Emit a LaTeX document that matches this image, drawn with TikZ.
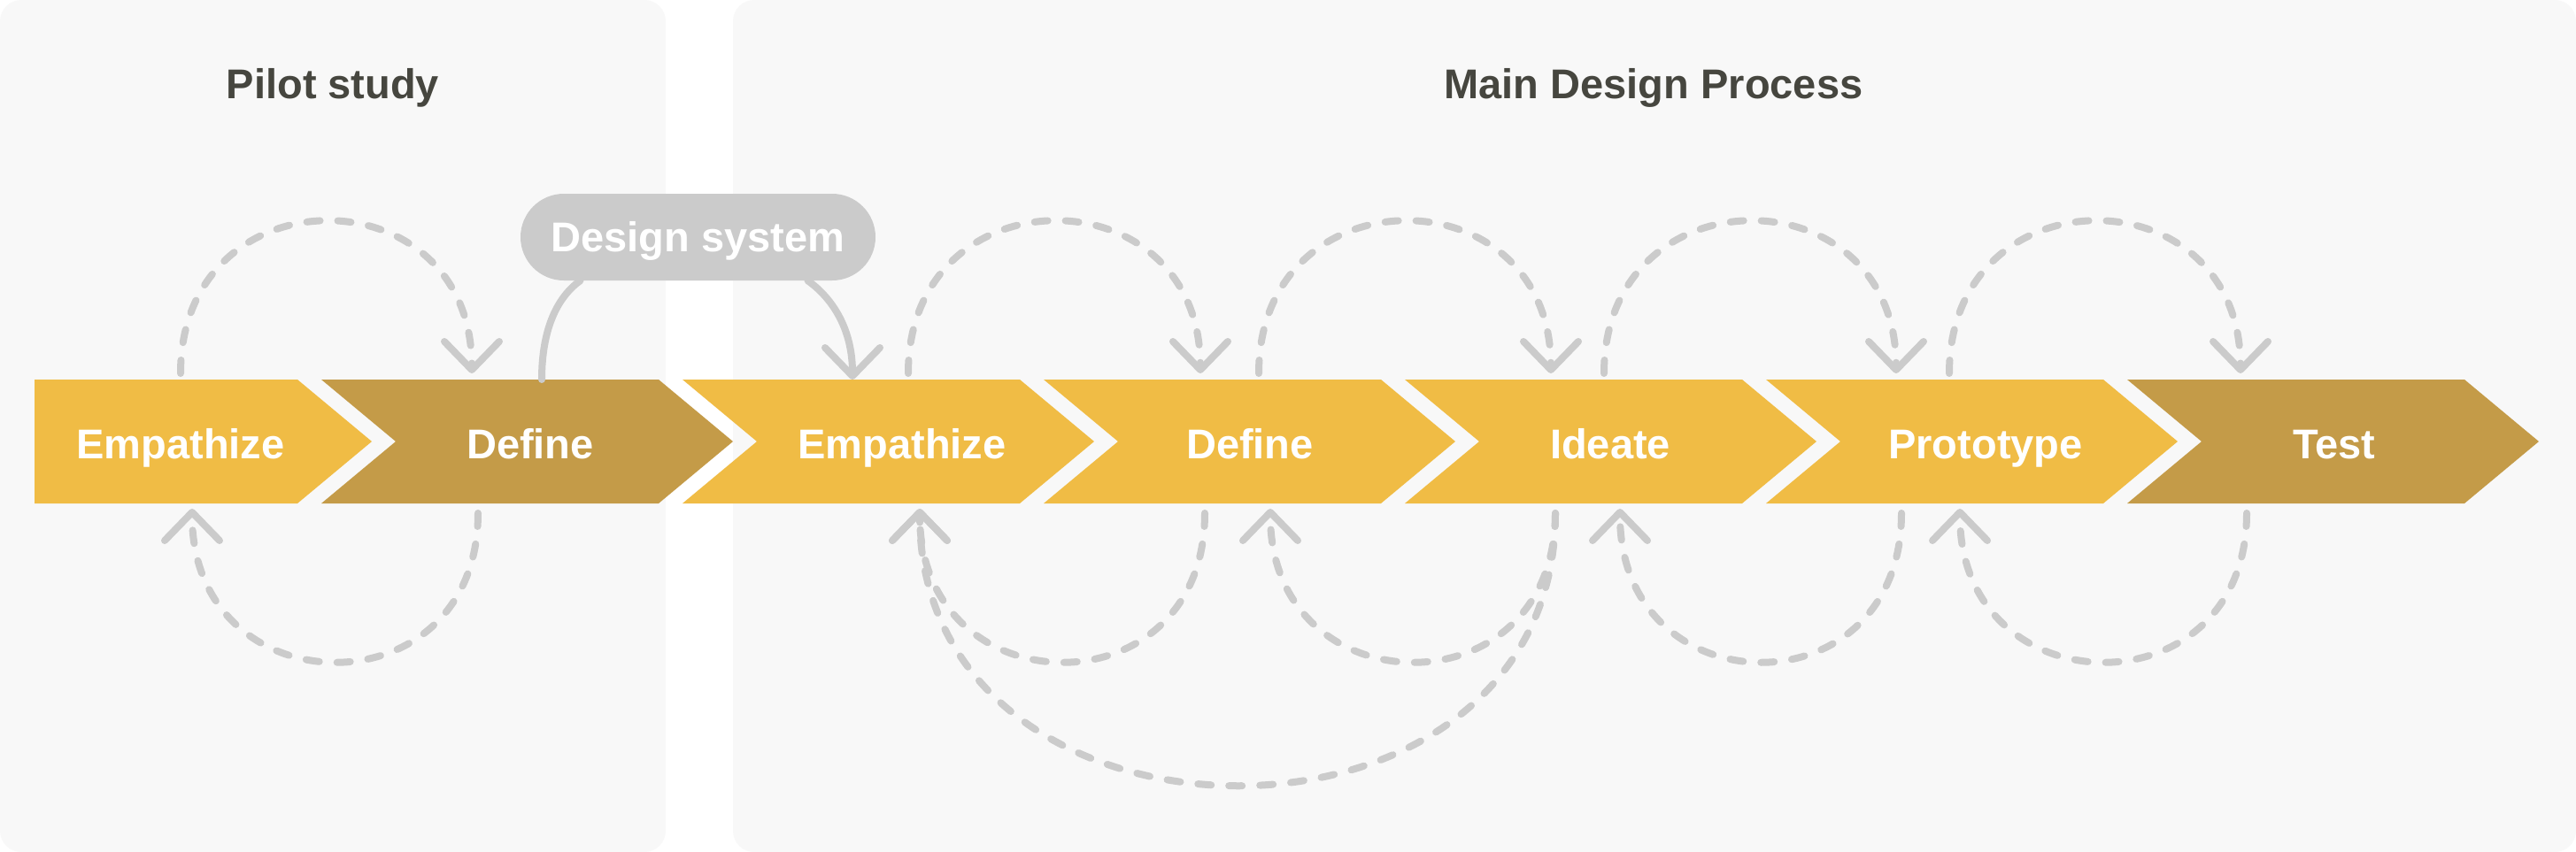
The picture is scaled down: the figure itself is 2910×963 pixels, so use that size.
\documentclass[tikz,border=0pt]{standalone}
\usepackage{fontspec}
\setmainfont{Liberation Sans}
\usetikzlibrary{arrows.meta}
\definecolor{panelgray}{HTML}{F8F8F8}
\definecolor{stepyellow}{HTML}{F0BC45}
\definecolor{stepgold}{HTML}{C49B48}
\definecolor{loopgray}{HTML}{CBCBCB}
\definecolor{titlegray}{HTML}{46463F}
\tikzset{
  bigfont/.style={font=\fontsize{47}{56}\selectfont\bfseries},
  steptext/.style={bigfont, anchor=base, text=white, inner sep=0pt},
  title/.style={bigfont, anchor=base, text=titlegray, inner sep=0pt},
  pill/.style={bigfont, fill=loopgray, text=white, rounded corners=49pt,
    minimum width=401pt, minimum height=98pt, inner sep=0pt,
    text height=33pt, text depth=0pt},
  loopline/.style={loopgray, line width=8pt, line cap=round,
    dash pattern=on 15pt off 20pt},
  link/.style={loopgray, line width=8pt, line cap=round},
  >={Straight Barb[length=32pt,width=62pt,round]}
}
\begin{document}
\begin{tikzpicture}[x=1pt, y=-1pt]
  \useasboundingbox (0,0) rectangle (2910,963);
  \fill[white] (0,0) rectangle (2910,963);
  % panels
  \fill[panelgray, rounded corners=24pt] (0,0) rectangle (752,963);
  \fill[panelgray, rounded corners=24pt] (828,0) rectangle (2910,963);
  \node[title] (pilot) at (376,112) {Pilot study};
  \node[title] (main) at (1868,112) {Main Design Process};

  % chevrons
  \fill[stepyellow] (39,429) -- (336,429) -- (420,499) -- (336,569) -- (39,569) -- cycle;
  \foreach \x/\c in {363/stepgold, 771/stepyellow, 1179/stepyellow, 1587/stepyellow,
                     1995/stepyellow, 2403/stepgold}
    \fill[\c] (\x,429) -- ++(381,0) -- ++(84,70) -- ++(-84,70) -- ++(-381,0) -- ++(84,-70) -- cycle;
  \node[steptext] (emp1) at (204,518) {Empathize};
  \node[steptext] (def1) at (599,518) {Define};
  \node[steptext] (emp2) at (1019,518) {Empathize};
  \node[steptext] (def2) at (1412,518) {Define};
  \node[steptext] (ide) at (1819,518) {Ideate};
  \node[steptext] (pro) at (2243,518) {Prototype};
  \node[steptext] (tst) at (2637,518) {Test};

  % forward loops (top)
  \foreach \i/\s/\e in {1/204/533, 2/1026/1356, 3/1422/1752, 4/1812/2142, 5/2202/2531} {
    \coordinate (fs\i) at (\s,422);
    \coordinate (fe\i) at (\e,422);
    \draw[loopline, ->] (fs\i) .. controls +(0,-229) and +(0,-229) .. (fe\i);
  }
  % backward loops (bottom)
  \foreach \i/\s/\e in {1/540/217, 2/1361/1039, 3/1757/1435, 4/2148/1830, 5/2538/2214} {
    \coordinate (bs\i) at (\s,580);
    \coordinate (be\i) at (\e,575);
    \draw[loopline, ->] (bs\i) .. controls +(0,227) and +(0,227) .. (be\i);
  }
  \draw[loopline, ->] (bs3) .. controls +(0,413) and +(0,413) .. (be2);

  % design system
  \node[pill] (dsys) at (788.5,268) {Design system};
  \coordinate (dl) at (612,429);
  \coordinate (dr) at (963,429);
  \draw[link] ([xshift=-133pt]dsys.south) .. controls +(-25,18) and +(0,-59) .. (dl);
  \draw[link, ->] ([xshift=124pt]dsys.south) .. controls +(28,20) and +(0,-57) .. (dr);
\end{tikzpicture}
\end{document}
